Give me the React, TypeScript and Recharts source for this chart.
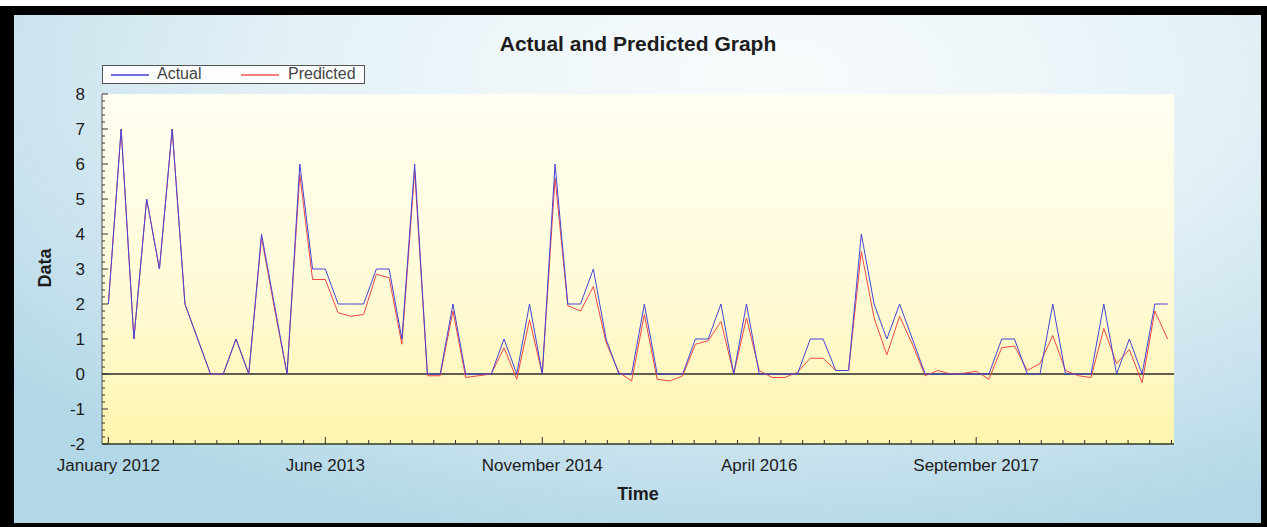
import React from "react";
import { LineChart, Line, XAxis, YAxis, ReferenceLine, CartesianGrid } from "recharts";

// ---- Data (monthly, January 2012 .. December 2018) ----
const monthNames = ["January","February","March","April","May","June","July","August","September","October","November","December"];
const years = [2012, 2013, 2014, 2015, 2016, 2017, 2018];
const monthLabels: string[] = years.flatMap((y) => monthNames.map((m) => `${m} ${y}`));

const actual = [
  2, 7, 1, 5, 3, 7, 2, 1, 0, 0, 1, 0,
  4, 2, 0, 6, 3, 3, 2, 2, 2, 3, 3, 1,
  6, 0, 0, 2, 0, 0, 0, 1, 0, 2, 0, 6,
  2, 2, 3, 1, 0, 0, 2, 0, 0, 0, 1, 1,
  2, 0, 2, 0, 0, 0, 0, 1, 1, 0.1, 0.1, 4,
  2, 1, 2, 1, 0, 0, 0, 0, 0, 0, 1, 1,
  0, 0, 2, 0, 0, 0, 2, 0, 1, 0, 2, 2,
];

const predicted = [
  2, 7, 1, 5, 3, 7, 2, 1, 0, 0, 1, 0,
  3.9, 1.9, 0, 5.7, 2.7, 2.7, 1.75, 1.65, 1.7, 2.85, 2.75, 0.85,
  5.8, -0.05, -0.05, 1.8, -0.1, -0.05, 0, 0.75, -0.15, 1.55, 0, 5.6,
  1.95, 1.8, 2.5, 0.9, 0.05, -0.2, 1.7, -0.15, -0.2, -0.05, 0.85, 0.95,
  1.5, 0, 1.6, 0.1, -0.1, -0.1, 0.05, 0.45, 0.45, 0.1, 0.1, 3.5,
  1.6, 0.55, 1.65, 0.85, -0.05, 0.1, 0, 0.02, 0.08, -0.15, 0.75, 0.8,
  0.1, 0.3, 1.1, 0.1, -0.05, -0.1, 1.3, 0.3, 0.7, -0.25, 1.8, 1.0,
];

const xTickLabels = ["January 2012", "June 2013", "November 2014", "April 2016", "September 2017"];
const xMajorStep = 17; // months between labelled ticks
const xMinorPerMajor = 10;
const yMajorTicks = [-2, -1, 0, 1, 2, 3, 4, 5, 6, 7, 8];

const data = actual.map((a, i) => ({ t: i, month: monthLabels[i], actual: a, predicted: predicted[i] }));

const xMinorTicks = Array.from({ length: 50 }, (_, k) => +((k * xMajorStep) / xMinorPerMajor).toFixed(3));
const yMinorTicks = Array.from({ length: 51 }, (_, k) => +(-2 + k * 0.2).toFixed(3));

const FONT = "Arial, 'Liberation Sans', sans-serif";
const TEXT = "#1c1c1c";
const TICK = "#333";

const BottomTick = (props: any) => {
  const { x, y, index } = props;
  const major = index % xMinorPerMajor === 0;
  const label = major ? xTickLabels[index / xMinorPerMajor] : null;
  return (
    <g>
      <line x1={x} x2={x} y1={y} y2={y - (major ? 7 : 4)} stroke={TICK} strokeWidth={1} />
      {label && (
        <text x={x} y={y + 27} textAnchor="middle" fontSize={17} fill={TEXT} fontFamily={FONT}>
          {label}
        </text>
      )}
    </g>
  );
};

const TopTick = (props: any) => {
  const { x, y, index } = props;
  const major = index % xMinorPerMajor === 0;
  return <line x1={x} x2={x} y1={y} y2={y + (major ? 7 : 4)} stroke={TICK} strokeWidth={1} />;
};

const isInt = (v: number) => Math.abs(v - Math.round(v)) < 1e-6;

const LeftTick = (props: any) => {
  const { x, y, payload } = props;
  const v = payload.value as number;
  const major = isInt(v);
  return (
    <g>
      <line x1={x} x2={x + (major ? 6 : 3)} y1={y} y2={y} stroke={TICK} strokeWidth={1} />
      {major && yMajorTicks.includes(Math.round(v)) && (
        <text x={x - 17} y={y} dy="0.36em" textAnchor="end" fontSize={17} fill={TEXT} fontFamily={FONT}>
          {Math.round(v)}
        </text>
      )}
    </g>
  );
};

const RightTick = (props: any) => {
  const { x, y, payload } = props;
  const major = isInt(payload.value);
  return <line x1={x} x2={x - (major ? 6 : 3)} y1={y} y2={y} stroke={TICK} strokeWidth={1} />;
};

export default function App() {
  return (
    <div style={{ position: "absolute", left: 0, top: 0, width: 1267, height: 527, background: "#fff", overflow: "hidden" }}>
      <div style={{ position: "absolute", left: 0, top: 6, width: 1267, height: 521, background: "#000" }} />
      <div
        style={{
          position: "absolute",
          left: 14,
          top: 15,
          width: 1247,
          height: 508,
          background:
            "radial-gradient(ellipse 80% 95% at 60% 12%, #f8fbfc 0%, #e6f2f7 45%, #c8e2ed 78%, #b2d7e7 100%)",
        }}
      />
      <div
        style={{
          position: "absolute",
          left: 138,
          top: 32,
          width: 1000,
          textAlign: "center",
          fontFamily: FONT,
          fontWeight: "bold",
          fontSize: 21,
          lineHeight: "24px",
          color: TEXT,
        }}
      >
        Actual and Predicted Graph
      </div>
      {/* Legend */}
      <div
        style={{
          position: "absolute",
          left: 102,
          top: 65,
          width: 263,
          height: 19,
          boxSizing: "border-box",
          border: "1px solid #555",
          background: "#fbfdfe",
          fontFamily: FONT,
          fontSize: 16,
          color: "#444",
        }}
      >
        <div style={{ position: "absolute", left: 8, top: 8, width: 38, height: 1.5, background: "#7070e0" }} />
        <div style={{ position: "absolute", left: 54, top: -1, lineHeight: "18px" }}>Actual</div>
        <div style={{ position: "absolute", left: 138, top: 8, width: 38, height: 1.5, background: "#ff7d7d" }} />
        <div style={{ position: "absolute", left: 185, top: -1, lineHeight: "18px" }}>Predicted</div>
      </div>
      <div
        style={{
          position: "absolute",
          left: 45,
          top: 268,
          transform: "translate(-50%, -50%) rotate(-90deg)",
          fontFamily: FONT,
          fontWeight: "bold",
          fontSize: 18,
          color: TEXT,
          whiteSpace: "nowrap",
        }}
      >
        Data
      </div>
      <div
        style={{
          position: "absolute",
          left: 138,
          top: 484,
          width: 1000,
          textAlign: "center",
          fontFamily: FONT,
          fontWeight: "bold",
          fontSize: 18,
          color: TEXT,
        }}
      >
        Time
      </div>
      <div style={{ position: "absolute", left: 0, top: 0 }}>
        <LineChart width={1267} height={527} data={data} margin={{ top: 94, right: 93, bottom: 53, left: 42 }}>
          <defs>
            <linearGradient id="plotBg" x1="0" y1="0" x2="0" y2="1">
              <stop offset="0%" stopColor="#fffef2" />
              <stop offset="55%" stopColor="#fffbd8" />
              <stop offset="100%" stopColor="#fff5ae" />
            </linearGradient>
          </defs>
          <CartesianGrid xAxisId="b" yAxisId="l" horizontal={false} vertical={false} fill="url(#plotBg)" stroke="none" />
          <XAxis
            xAxisId="b"
            dataKey="t"
            type="number"
            domain={[-0.5, 83.5]}
            allowDataOverflow
            ticks={xMinorTicks}
            interval={0}
            tickSize={0}
            tickMargin={0}
            tickLine={false}
            tick={<BottomTick />}
            axisLine={{ stroke: "#5b6650", strokeWidth: 2 }}
            height={30}
          />
          <XAxis
            xAxisId="t"
            orientation="top"
            dataKey="t"
            type="number"
            domain={[-0.5, 83.5]}
            allowDataOverflow
            ticks={xMinorTicks}
            interval={0}
            tickSize={0}
            tickMargin={0}
            tickLine={false}
            tick={<TopTick />}
            axisLine={{ stroke: "#555", strokeWidth: 1 }}
            height={0}
          />
          <YAxis
            yAxisId="l"
            type="number"
            domain={[-2, 8]}
            allowDataOverflow
            ticks={yMinorTicks}
            interval={0}
            tickSize={0}
            tickMargin={0}
            tickLine={false}
            tick={<LeftTick />}
            axisLine={{ stroke: "#555", strokeWidth: 1 }}
            width={60}
          />
          <YAxis
            yAxisId="r"
            orientation="right"
            type="number"
            domain={[-2, 8]}
            allowDataOverflow
            ticks={yMinorTicks}
            interval={0}
            tickSize={0}
            tickMargin={0}
            tickLine={false}
            tick={<RightTick />}
            axisLine={{ stroke: "#555", strokeWidth: 1 }}
            width={0}
          />
          <ReferenceLine xAxisId="b" yAxisId="l" y={0} stroke="#2a2a2a" strokeWidth={1.5} />
          <Line
            xAxisId="b"
            yAxisId="l"
            type="linear"
            dataKey="predicted"
            name="Predicted"
            stroke="#f04848"
            strokeWidth={1}
            dot={false}
            isAnimationActive={false}
          />
          <Line
            xAxisId="b"
            yAxisId="l"
            type="linear"
            dataKey="actual"
            name="Actual"
            stroke="#4545d8"
            strokeWidth={1}
            dot={false}
            isAnimationActive={false}
          />
        </LineChart>
      </div>
    </div>
  );
}
